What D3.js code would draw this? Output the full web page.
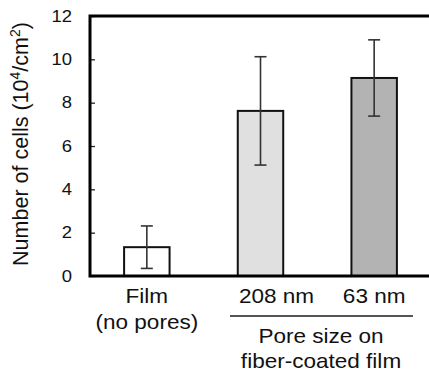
<!DOCTYPE html>
<html lang="en">
<head>
<meta charset="UTF-8">
<title>Number of cells</title>
<style>
    body { margin: 0; background: #fff; }
    svg { display: block; font-family: 'Liberation Sans', Arial, sans-serif; }
</style>
<script src="https://d3js.org/d3.v7.min.js"></script>
</head>
<body>
<svg id="chart" width="429" height="369"></svg>
<script>
    // data
    var categories = ['Film', '208 nm', '63 nm'];
    var means = [1.33, 7.62, 9.14];
    var errors = [0.98, 2.5, 1.76];
    var fills = ['#ffffff', '#e0e0e0', '#b3b3b3'];
    var yTicks = [0, 2, 4, 6, 8, 10, 12];

    var svg = d3.select('#chart');
    // plot box (the right edge runs just past the window, as in the figure)
    var plotLeft = 90, plotTop = 16, plotRight = 431, plotBottom = 276;
    var stretch = 1.1; // the figure's lettering is slightly wide

    var x = d3.scaleBand()
        .domain(categories)
        .range([plotLeft, plotRight])
        .paddingInner(0.6)
        .paddingOuter(0.3);

    var y = d3.scaleLinear()
        .domain([0, 12])
        .range([plotBottom, plotTop]);

    // bars
    svg.selectAll('rect.bar')
        .data(categories)
        .enter()
        .append('rect')
        .attr('class', 'bar')
        .attr('x', d => x(d))
        .attr('y', (d, i) => y(means[i]))
        .attr('width', x.bandwidth())
        .attr('height', (d, i) => y(0) - y(means[i]))
        .attr('fill', (d, i) => fills[i])
        .attr('stroke', '#111')
        .attr('stroke-width', 2);

    // error bars
    var cx = d => x(d) + x.bandwidth() / 2;
    var eb = svg.selectAll('g.err')
        .data(categories)
        .enter()
        .append('g')
        .attr('class', 'err')
        .attr('stroke', '#333')
        .attr('stroke-width', 1.6);
    eb.append('line')
        .attr('x1', cx).attr('x2', cx)
        .attr('y1', (d, i) => y(means[i] + errors[i]))
        .attr('y2', (d, i) => y(means[i] - errors[i]));
    eb.append('line')
        .attr('x1', d => cx(d) - 6).attr('x2', d => cx(d) + 6)
        .attr('y1', (d, i) => y(means[i] + errors[i]))
        .attr('y2', (d, i) => y(means[i] + errors[i]));
    eb.append('line')
        .attr('x1', d => cx(d) - 6).attr('x2', d => cx(d) + 6)
        .attr('y1', (d, i) => y(means[i] - errors[i]))
        .attr('y2', (d, i) => y(means[i] - errors[i]));

    // y axis, ticks pointing inward
    var yAxis = svg.append('g')
        .attr('transform', 'translate(' + plotLeft + ',0)')
        .call(d3.axisLeft(y).tickValues(yTicks).tickSize(-5).tickPadding(16));
    yAxis.select('.domain').remove();
    yAxis.selectAll('.tick line').attr('stroke', '#222').attr('stroke-width', 1.3);
    yAxis.selectAll('.tick text')
        .attr('fill', '#111')
        .attr('transform', 'scale(1.12,1)')
        .style('font-size', '16.5px')
        .style('font-family', "'Liberation Sans', Arial, sans-serif");

    // frame: top, left, bottom
    svg.append('path')
        .attr('d', 'M' + plotRight + ',' + plotTop + 'H' + plotLeft + 'V' + plotBottom + 'H' + plotRight)
        .attr('fill', 'none')
        .attr('stroke', '#000')
        .attr('stroke-width', 3);

    // y title
    var yt = svg.append('text')
        .attr('transform', 'translate(28,' + ((plotTop + plotBottom) / 2 - 2) + ') rotate(-90)')
        .attr('text-anchor', 'middle')
        .attr('fill', '#111')
        .style('font-size', '21.5px');
    yt.append('tspan').text('Number of cells (10');
    yt.append('tspan').text('4').attr('dy', -8).style('font-size', '14px');
    yt.append('tspan').text('/cm').attr('dy', 8);
    yt.append('tspan').text('2').attr('dy', -8).style('font-size', '14px');
    yt.append('tspan').text(')').attr('dy', 8);

    function label(px, py, txt) {
        svg.append('text')
            .attr('transform', 'translate(' + px + ',' + py + ') scale(' + stretch + ',1)')
            .attr('text-anchor', 'middle')
            .attr('fill', '#111')
            .style('font-size', '20.5px')
            .text(txt);
    }

    // category labels
    var labelOffsets = [0, 16, 0];
    categories.forEach((d, i) => label(cx(d) + labelOffsets[i], 303, d));
    label(cx('Film'), 329, '(no pores)');

    // group bracket
    svg.append('line')
        .attr('x1', 230).attr('x2', 413)
        .attr('y1', 316).attr('y2', 316)
        .attr('stroke', '#555')
        .attr('stroke-width', 1.8);

    label(321, 343, 'Pore size on');
    label(321, 368, 'fiber-coated film');
</script>
</body>
</html>
